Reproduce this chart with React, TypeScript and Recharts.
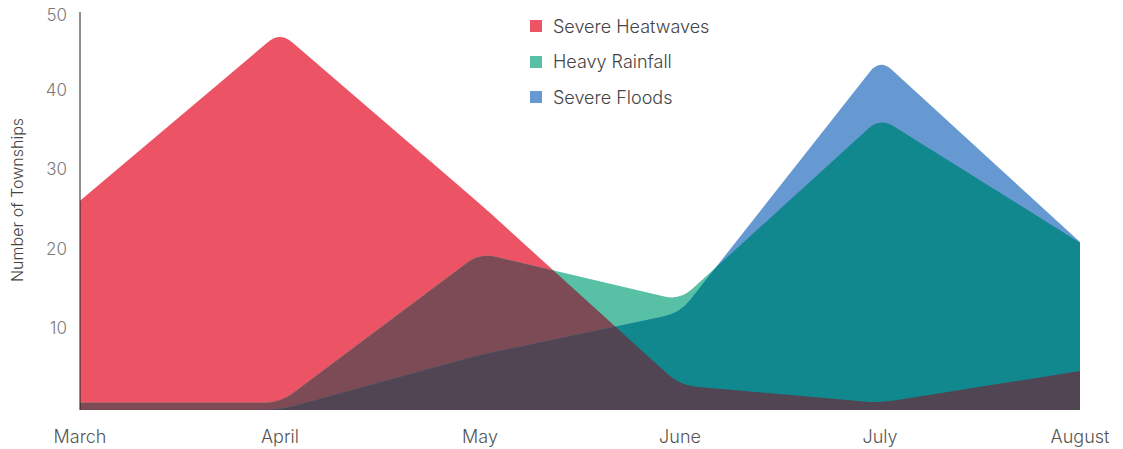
import React, { useEffect, useState } from 'react';
import { AreaChart, Area, XAxis, YAxis, Legend } from 'recharts';

const months = ['March', 'April', 'May', 'June', 'July', 'August'];
const heatwaves = [26.3, 47.5, 25.9, 3.1, 0.9, 4.9];
const rainfall = [0.9, 0.9, 19.7, 13.8, 36.7, 21.0];
const floods = [0, 0, 6.9, 12.2, 44.1, 21.1];
const yTicks = [10, 20, 30, 40, 50];
const seriesNames = ['Severe Heatwaves', 'Heavy Rainfall', 'Severe Floods'];

const RED = '#EC5465';
const GREEN = '#57C0A5';
const BLUE = '#6698D2';
const RED_GREEN = '#7D4B55';
const GREEN_BLUE = '#10888E';
const ALL_THREE = '#514554';
const legendColors = [RED, GREEN, BLUE];

const data = months.map((m, i) => ({
  month: m,
  heat: heatwaves[i],
  rain: rainfall[i],
  flood: floods[i],
}));

const CORNER = 16;

// linear curve with softly rounded joins
const roundedCurve: any = (context: any) => {
  let pts: number[][] = [];
  let line: any;
  const draw = (p: number[][]) => {
    const n = p.length;
    if (!n) return;
    if (line) context.lineTo(p[0][0], p[0][1]);
    else context.moveTo(p[0][0], p[0][1]);
    for (let i = 1; i < n - 1; i++) {
      const [x0, y0] = p[i - 1];
      const [x1, y1] = p[i];
      const [x2, y2] = p[i + 1];
      const d1 = Math.hypot(x1 - x0, y1 - y0);
      const d2 = Math.hypot(x2 - x1, y2 - y1);
      const r = Math.min(CORNER, d1 / 2, d2 / 2);
      if (!(r > 0)) {
        context.lineTo(x1, y1);
        continue;
      }
      const ax = x1 + ((x0 - x1) * r) / d1;
      const ay = y1 + ((y0 - y1) * r) / d1;
      const bx = x1 + ((x2 - x1) * r) / d2;
      const by = y1 + ((y2 - y1) * r) / d2;
      context.lineTo(ax, ay);
      context.quadraticCurveTo(x1, y1, bx, by);
    }
    if (n > 1) context.lineTo(p[n - 1][0], p[n - 1][1]);
  };
  return {
    areaStart() {
      line = 0;
    },
    areaEnd() {
      line = NaN;
    },
    lineStart() {
      pts = [];
    },
    lineEnd() {
      draw(pts);
      if (line || (line !== 0 && pts.length === 1)) context.closePath();
      line = 1 - line;
    },
    point(x: number, y: number) {
      pts.push([+x, +y]);
    },
  };
};

const FONT = 'Inter, "Noto Sans", sans-serif';

const YTick = (props: any) => {
  const { x, y, payload } = props;
  const yy = Math.max(y - 2, 15.5);
  return (
    <text x={x} y={yy} dy="0.35em" textAnchor="end" fill="#7a7a7a" fontSize={17} fontWeight={300} fontFamily={FONT}>
      {payload.value}
    </text>
  );
};

const LegendContent = () => (
  <div style={{ fontFamily: FONT }}>
    {seriesNames.map((n, i) => (
      <div key={n} style={{ display: 'flex', alignItems: 'center', height: 35.5 }}>
        <div style={{ width: 12, height: 12, background: legendColors[i], marginRight: 11 }} />
        <span style={{ fontSize: 18, fontWeight: 300, color: '#444' }}>{n}</span>
      </div>
    ))}
  </div>
);

export default function App() {
  const [clips, setClips] = useState<{ heat: string; rain: string } | null>(null);

  useEffect(() => {
    let tries = 0;
    const timer = setInterval(() => {
      tries++;
      const hp = document.querySelector('.area-heat path.recharts-area-area');
      const rp = document.querySelector('.area-rain path.recharts-area-area');
      if (hp && rp) {
        const h = hp.getAttribute('d') || '';
        const r = rp.getAttribute('d') || '';
        if (h && r) {
          setClips((prev) => (prev && prev.heat === h && prev.rain === r ? prev : { heat: h, rain: r }));
          const apply = (sel: string, url: string) =>
            document.querySelectorAll(sel).forEach((el) => el.setAttribute('clip-path', url));
          apply('.ov-rg', 'url(#clip-heat)');
          apply('.ov-gb', 'url(#clip-rain)');
          apply('.ov-all', 'url(#clip-rain-heat)');
        }
      }
      if (tries > 60) clearInterval(timer);
    }, 20);
    return () => clearInterval(timer);
  }, []);

  const ready = !!clips;

  return (
    <div style={{ position: 'relative', width: 1110, height: 449, marginTop: -8, fontFamily: FONT }}>
      <svg width={0} height={0} style={{ position: 'absolute' }}>
        <defs>
          {clips && (
            <>
              <clipPath id="clip-heat">
                <path d={clips.heat} />
              </clipPath>
              <clipPath id="clip-rain">
                <path d={clips.rain} />
              </clipPath>
              <clipPath id="clip-rain-heat" clipPath="url(#clip-heat)">
                <path d={clips.rain} />
              </clipPath>
            </>
          )}
        </defs>
      </svg>
      <AreaChart width={1110} height={449} data={data} margin={{ top: 12, right: 38, bottom: 0, left: 0 }}>
        <XAxis
          dataKey="month"
          axisLine={false}
          tickLine={false}
          tickSize={0}
          tickMargin={20}
          height={39}
          interval={0}
          tick={{ fill: '#555', fontSize: 18, fontWeight: 300, fontFamily: FONT }}
        />
        <YAxis
          type="number"
          domain={[0, 50]}
          ticks={yTicks}
          width={72}
          tickLine={false}
          tickSize={0}
          tickMargin={13}
          axisLine={{ stroke: '#222', strokeWidth: 1 }}
          tick={<YTick />}
          label={() => (
            <text
              x={9}
              y={200}
              transform="rotate(-90, 9, 200)"
              textAnchor="middle"
              dominantBaseline="central"
              fill="#444"
              fontSize={16}
              fontWeight={300}
              fontFamily={FONT}
            >
              Number of Townships
            </text>
          )}
        />
        <Legend
          verticalAlign="middle"
          align="center"
          layout="vertical"
          content={<LegendContent />}
          wrapperStyle={{ position: 'absolute', left: 522, top: 8.5, width: 260 }}
        />
        <Area className="area-heat" type={roundedCurve} dataKey="heat" name={seriesNames[0]} fill={RED} fillOpacity={1} stroke="none" isAnimationActive={false} />
        <Area className="area-rain" type={roundedCurve} dataKey="rain" name={seriesNames[1]} fill={GREEN} fillOpacity={1} stroke="none" isAnimationActive={false} />
        <Area className="area-flood" type={roundedCurve} dataKey="flood" name={seriesNames[2]} fill={BLUE} fillOpacity={1} stroke="none" isAnimationActive={false} />
        <Area className="ov-rg" type={roundedCurve} dataKey="rain" legendType="none" fill={RED_GREEN} fillOpacity={ready ? 1 : 0} stroke="none" isAnimationActive={false} />
        <Area className="ov-gb" type={roundedCurve} dataKey="flood" legendType="none" fill={GREEN_BLUE} fillOpacity={ready ? 1 : 0} stroke="none" isAnimationActive={false} />
        <Area className="ov-all" type={roundedCurve} dataKey="flood" legendType="none" fill={ALL_THREE} fillOpacity={ready ? 1 : 0} stroke="none" isAnimationActive={false} />
      </AreaChart>
    </div>
  );
}
